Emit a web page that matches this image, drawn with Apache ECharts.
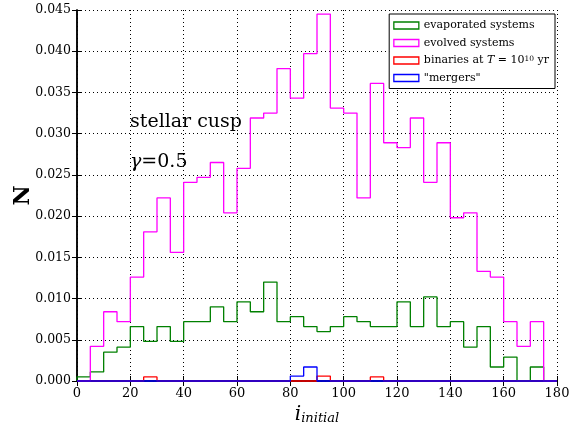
<!DOCTYPE html>
<html>
<head>
<meta charset="utf-8">
<script src="https://cdn.jsdelivr.net/npm/echarts@6/dist/echarts.min.js"></script>
<style>html,body{margin:0;padding:0;background:#fff}#c{width:586px;height:424px}</style>
</head>
<body>
<div id="c"></div>
<script>
// bin left edges (bin width 5 deg)
var binStarts = [0,5,10,15,20,25,30,35,40,45,50,55,60,65,70,75,80,85,90,95,100,105,110,115,120,125,130,135,140,145,150,155,160,165,170,175];
var binEnd = 180;
var evaporated = [0.0005,0.0011,0.0035,0.0041,0.0066,0.0048,0.0066,0.0048,0.0072,0.0072,0.0090,0.0072,0.0096,0.0084,0.0120,0.0072,0.0078,0.0066,0.0060,0.0066,0.0078,0.0072,0.0066,0.0066,0.0096,0.0066,0.0102,0.0066,0.0072,0.0041,0.0066,0.0017,0.0029,0.0000,0.0017,0.0000];
var evolved = [0.0000,0.0042,0.0084,0.0072,0.0126,0.0181,0.0222,0.0156,0.0241,0.0247,0.0265,0.0204,0.0258,0.0319,0.0325,0.0379,0.0343,0.0397,0.0445,0.0331,0.0325,0.0222,0.0361,0.0289,0.0283,0.0319,0.0241,0.0289,0.0198,0.0204,0.0133,0.0126,0.0072,0.0042,0.0072,0.0000];
var binaries = [0,0,0,0,0,0.0005,0,0,0,0,0,0,0,0,0,0,0,0,0.0006,0,0,0,0.0005,0,0,0,0,0,0,0,0,0,0,0,0,0];
var mergers = [0,0,0,0,0,0,0,0,0,0,0,0,0,0,0,0,0.0006,0.0017,0,0,0,0,0,0,0,0,0,0,0,0,0,0,0,0,0,0];
var xTicks = {min:0, max:180, interval:20};
var yTicks = {min:0, max:0.045, interval:0.005};

function stepData(vals){
  var d = [[binStarts[0],0]];
  for (var i=0;i<binStarts.length;i++) d.push([binStarts[i], vals[i]]);
  d.push([binEnd, vals[vals.length-1]]);
  d.push([binEnd, 0]);
  return d;
}
var FONT = 'DejaVu Serif';
var colors = {evap:'#008000', evol:'#ff00ff', bin:'#ff0000', merg:'#0000ff'};
function mk(name, vals, color){
  return {name:name, type:'line', step:'end', data:stepData(vals), showSymbol:false, symbol:'none',
    lineStyle:{color:color, width:1.3}, itemStyle:{color:color}, animation:false, clip:false};
}
var chart = echarts.init(document.getElementById('c'), null, {renderer:'canvas'});
var tickStyle = {inside:true, length:5, lineStyle:{color:'#000', width:1}};
var axisLineStyle = {show:true, lineStyle:{color:'#000', width:1.5}};
chart.setOption({
  animation:false,
  backgroundColor:'#fff',
  grid:{left:77, right:29, top:10, bottom:43, containLabel:false, outerBoundsMode:'none'},
  xAxis:[{
    type:'value', min:xTicks.min, max:xTicks.max, interval:xTicks.interval, position:'bottom',
    axisLine:axisLineStyle, axisTick:tickStyle,
    axisLabel:{color:'#000', fontFamily:FONT, fontSize:13, margin:6},
    splitLine:{show:true, lineStyle:{color:'#000', type:[1,3], width:1}},
    name:'{i|i}{s|initial}', nameLocation:'middle', nameGap:20,
    nameTextStyle:{rich:{i:{fontFamily:FONT, fontStyle:'italic', fontSize:20, color:'#000', verticalAlign:'bottom'},
                         s:{fontFamily:FONT, fontStyle:'italic', fontSize:13, color:'#000', padding:[10,0,0,0], verticalAlign:'bottom'}}}
  },{
    type:'value', min:xTicks.min, max:xTicks.max, interval:xTicks.interval, position:'top',
    axisLine:axisLineStyle, axisTick:tickStyle, axisLabel:{show:false}, splitLine:{show:false}
  }],
  yAxis:[{
    type:'value', min:yTicks.min, max:yTicks.max, interval:yTicks.interval, position:'left',
    axisLine:axisLineStyle, axisTick:tickStyle,
    axisLabel:{color:'#000', fontFamily:FONT, fontSize:12.5, margin:6, formatter:function(v){return v.toFixed(3);}},
    splitLine:{show:true, lineStyle:{color:'#000', type:[1,3], width:1}},
    name:'N', nameLocation:'middle', nameGap:43, nameMoveOverlap:false,
    nameTextStyle:{fontFamily:FONT, fontSize:22, fontWeight:'bold', color:'#000'}
  },{
    type:'value', min:yTicks.min, max:yTicks.max, interval:yTicks.interval, position:'right',
    axisLine:axisLineStyle, axisTick:tickStyle, axisLabel:{show:false}, splitLine:{show:false}
  }],
  legend:{
    orient:'vertical', right:31, top:14, icon:'rect', itemWidth:25, itemHeight:7, itemGap:6.5,
    backgroundColor:'#fff', borderColor:'#000', borderWidth:1, padding:[6,6,5,4], itemTextGap:7,
    textStyle:{fontFamily:FONT, fontSize:11, color:'#000', lineHeight:11,
      rich:{a:{fontFamily:FONT, fontSize:11, color:'#000'}, it:{fontFamily:FONT, fontSize:11, fontStyle:'italic', color:'#000'},
            sup:{fontFamily:FONT, fontSize:7.5, color:'#000', verticalAlign:'top', padding:[0,0,6,0]}}},
    formatter:function(n){
      if (n.indexOf('binaries')===0) return '{a|binaries at }{it|T}{a| = 10}{sup|10}{a| yr}';
      return n;
    },
    data:[
      {name:'evaporated systems', itemStyle:{color:'rgba(0,0,0,0)', borderColor:colors.evap, borderWidth:1.3}},
      {name:'evolved systems', itemStyle:{color:'rgba(0,0,0,0)', borderColor:colors.evol, borderWidth:1.3}},
      {name:'binaries at T = 10^10 yr', itemStyle:{color:'rgba(0,0,0,0)', borderColor:colors.bin, borderWidth:1.3}},
      {name:'"mergers"', itemStyle:{color:'rgba(0,0,0,0)', borderColor:colors.merg, borderWidth:1.3}}
    ]
  },
  graphic:[
    {type:'text', left:130, top:113, style:{text:'stellar cusp', font:'19px "DejaVu Serif"', fill:'#000'}, z:100},
    {type:'text', left:130, top:153, style:{text:'{g|γ}{n|=0.5}', rich:{g:{font:'italic 19px "DejaVu Serif"', fill:'#000'}, n:{font:'19px "DejaVu Serif"', fill:'#000'}}}, z:100}
  ],
  series:[
    mk('evaporated systems', evaporated, colors.evap),
    mk('evolved systems', evolved, colors.evol),
    mk('binaries at T = 10^10 yr', binaries, colors.bin),
    mk('"mergers"', mergers, colors.merg)
  ]
});
</script>
</body>
</html>
